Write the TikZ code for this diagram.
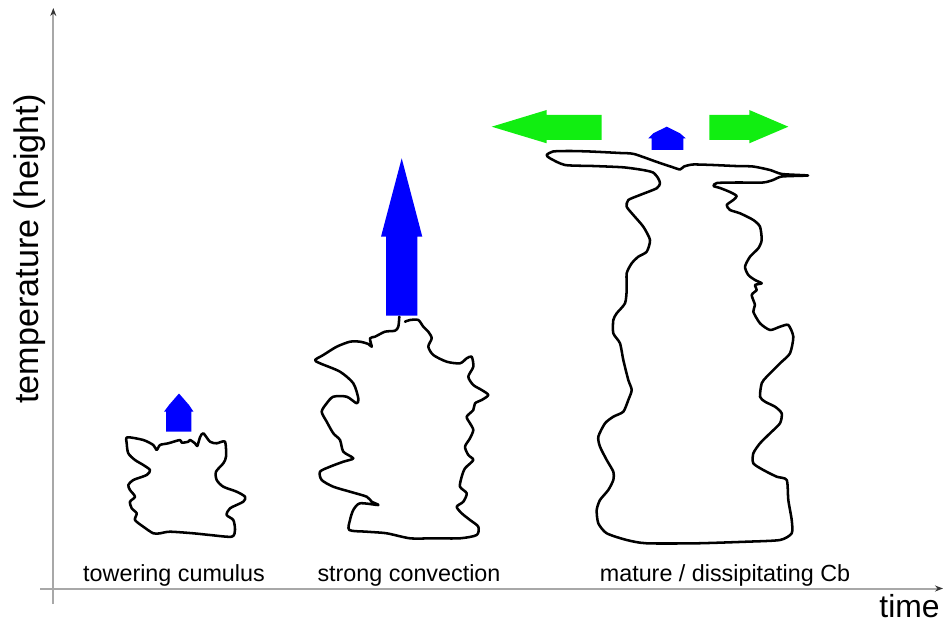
\documentclass[tikz,border=0pt]{standalone}
\usepackage{fontspec}
\setmainfont{Liberation Sans}
\usetikzlibrary{arrows.meta}
\definecolor{axisgray}{HTML}{A8A8A8}
\definecolor{tipgray}{HTML}{333333}
\definecolor{liftblue}{HTML}{0000FF}
\definecolor{spreadgreen}{HTML}{11EE11}

\begin{document}
\begin{tikzpicture}[x=0.75pt,y=-0.75pt,
  axis/.style={draw=axisgray, line width=1.5pt,
    -{Stealth[length=6pt,width=4.5pt,color=tipgray]}},
  cloud/.style={draw=black, line width=1.9pt, line join=round, line cap=round},
  lift/.style={fill=liftblue},
  spread/.style={fill=spreadgreen},
  stage/.style={font=\fontsize{17.5}{20}\selectfont, anchor=base, inner sep=0pt}]
\useasboundingbox (0,0) rectangle (944,623);

% axes
\coordinate (ybot) at (53.3,604);
\coordinate (ytop) at (53.3,8);
\coordinate (xleft) at (40,588.5);
\coordinate (xright) at (943,588.5);
\draw[axis] (ybot) -- (ytop);
\draw[axis] (xleft) -- (xright);

\node[rotate=90, inner sep=0pt, font=\fontsize{25.6}{30}\selectfont] (ylabel) at (30,249) {temperature (height)};
\node[anchor=base, inner sep=0pt, font=\fontsize{23.9}{28}\selectfont] (xlabel) at (909.5,617) {time};

% stage labels
\node[stage] (stage1) at (174,581.7) {towering cumulus};
\node[stage] (stage2) at (409,581.7) {strong convection};
\node[stage] (stage3) at (725,581.7) {mature / dissipitating Cb};

% towering cumulus
\draw[cloud] plot[smooth cycle, tension=0.45] coordinates {
 (127.3,437.3) (143.3,440) (153.3,445) (156.7,450) (160,445) (168.3,443.3)
 (180,440) (181.7,442.7) (188.3,441.7) (190,440) (195,443.3) (197.3,446)
 (200,437.3) (203.3,433.3) (210,441.7) (216.7,443.3) (225,441.7) (226,456.7)
 (223.3,463.3) (216,471.7) (216.7,480) (223.3,486.7) (236.7,491.7) (245,496.7)
 (243.3,501.7) (230,508.3) (226.7,515) (233.3,520) (235,530) (231.7,536.7)
 (210,535) (193.3,533.3) (170,531.7) (160,533.3) (153.3,533.3) (143.3,526.7)
 (135,520) (136.7,513.3) (131.7,508.3) (130,501.7) (135,496.7) (130,490)
 (128.3,485) (133.3,480) (146.7,475) (150,470) (143.3,465) (135,460)
 (128.3,453.3) (126.7,443.3)};
\fill[lift] (166,431.7) -- (166,411.7) -- (164,411.7) -- (169,405) -- (179,393.5)
 -- (189,405) -- (193.5,411.7) -- (191.3,411.7) -- (191.3,431.7) -- cycle;

% strong convection
\draw[cloud] plot[smooth, tension=0.45] coordinates {
 (399.3,316.7) (398.3,326.7) (395,330.7) (385,331.7) (375,336.7) (370,338.3)
 (371.7,346.7) (368.3,344) (360,341.7) (350,341.7) (336.7,346.7) (323.3,355)
 (315,360) (320,363.3) (340,371.7) (353.3,383.3) (358.3,398.3) (356.7,403.3)
 (346.7,396.7) (333.3,396.7) (326.7,403.3) (321.7,411.7) (326.7,421.7)
 (333.3,433.3) (340,440) (343.3,451.7) (353.3,458.3) (343.3,461.7) (330,466.7)
 (320,471.7) (321.7,480) (333.3,486.7) (350,491.7) (366.7,496.7) (371.7,501.7)
 (378.3,505) (360,503.3) (353.3,510) (350,520) (349.3,530) (366.7,531.7)
 (386.7,533.3) (410,538.3) (433.3,538.3) (460,538.3) (476.7,535) (478.3,526.7)
 (470,520) (461.7,513.3) (456.7,506.7) (463.3,501.7) (466.7,493.3) (460,486.7)
 (461.7,476.7) (465,468.3) (473.3,460) (468.3,455) (465,446.7) (470,438.3)
 (473.3,430) (470,423.3) (466.7,416.7) (473.3,410) (475,403.3) (481.7,400)
 (488.3,395) (481.7,390) (473.3,385) (468.3,376.7) (473.3,366.7) (471.7,356.7)
 (466.7,358.3) (460,363.3) (446.7,361.7) (433.3,355) (428.3,346.7) (431.7,338.3)
 (428.3,331.7) (423.3,326.7) (418.3,320) (410,320) (405,321.7)};
\fill[lift] (386,315.7) -- (386,236.7) -- (381,236.7) -- (401.7,158.3)
 -- (422.3,236.7) -- (417.3,236.7) -- (417.3,315.7) -- cycle;

% mature / dissipating Cb with anvil
\draw[cloud] plot[smooth cycle, tension=0.4] coordinates {
 (546.7,155) (553,151.5) (570,151) (590,151.5) (620,153) (634,154) (657,162)
 (672,167) (680,169.5) (684,166.5) (693,164.5) (713,165) (735,166) (753,166.5)
 (770,170) (782,174) (808,175.5) (782,176.5) (773,180) (763,182.5) (737,182.5)
 (717,183) (713.5,186) (720,188) (730,192) (736.7,196) (733.3,200) (726.7,205)
 (730,210) (740,213.3) (753.3,220) (760,226.7) (761.7,240) (758.3,248.3)
 (750,256.7) (745,266.7) (748.3,275) (755,280) (761.7,283.3) (755,285)
 (756.7,290) (751.7,295) (755,305) (753.3,311.7) (760,323.3) (770,330)
 (780,326.7) (788.3,325) (793.3,336.7) (790,353.3) (780,363.3) (766.7,376.7)
 (761.7,383.3) (760,396.7) (765,401.7) (775,406.7) (781.7,413.3) (780,423.3)
 (770,433.3) (760,443.3) (753.3,453.3) (753.3,463.3) (763.3,470) (776.7,476.7)
 (786.7,480) (788.3,500) (791.7,520) (791.7,533.3) (780,540) (746.7,541.7)
 (696.7,543.3) (646.7,543.3) (626.7,540) (606.7,533.3) (598.3,523.3)
 (596.7,510) (600,500) (608.3,490) (613.3,480) (613.3,471.7) (606.7,460)
 (600,446.7) (598.3,436.7) (605,423.3) (613.3,416.7) (623.3,411.7) (628.3,400)
 (631.7,390) (628.3,380) (623.3,360) (620,343.3) (613.3,333.3) (613.3,320)
 (616.7,313.3) (625,303.3) (626.7,290) (626.7,273.3) (631.7,263.3)
 (638.3,256.7) (646.7,251.7) (650,240) (643.3,226.7) (633.3,215) (626.7,206.7)
 (628.3,200) (640,195) (656.7,188.3) (660,183.3) (658,178) (653,172.5)
 (643,170) (623,167.3) (593,166) (565,165) (550,158.3)};
\fill[lift] (651.7,150) -- (651.7,138.3) -- (648.3,138.3) -- (653.3,133.3)
 -- (666.7,126.7) -- (680,133.3) -- (685.7,138.3) -- (683.3,138.3)
 -- (683.3,150) -- cycle;
\fill[spread] (491.7,126.7) -- (546.7,110) -- (546.7,115) -- (601.7,115)
 -- (601.7,140) -- (546.7,140) -- (546.7,143.3) -- cycle;
\fill[spread] (709.3,115) -- (749.3,115) -- (749.3,110) -- (788.3,126.7)
 -- (749.3,143.3) -- (749.3,140) -- (709.3,140) -- cycle;
\end{tikzpicture}
\end{document}
